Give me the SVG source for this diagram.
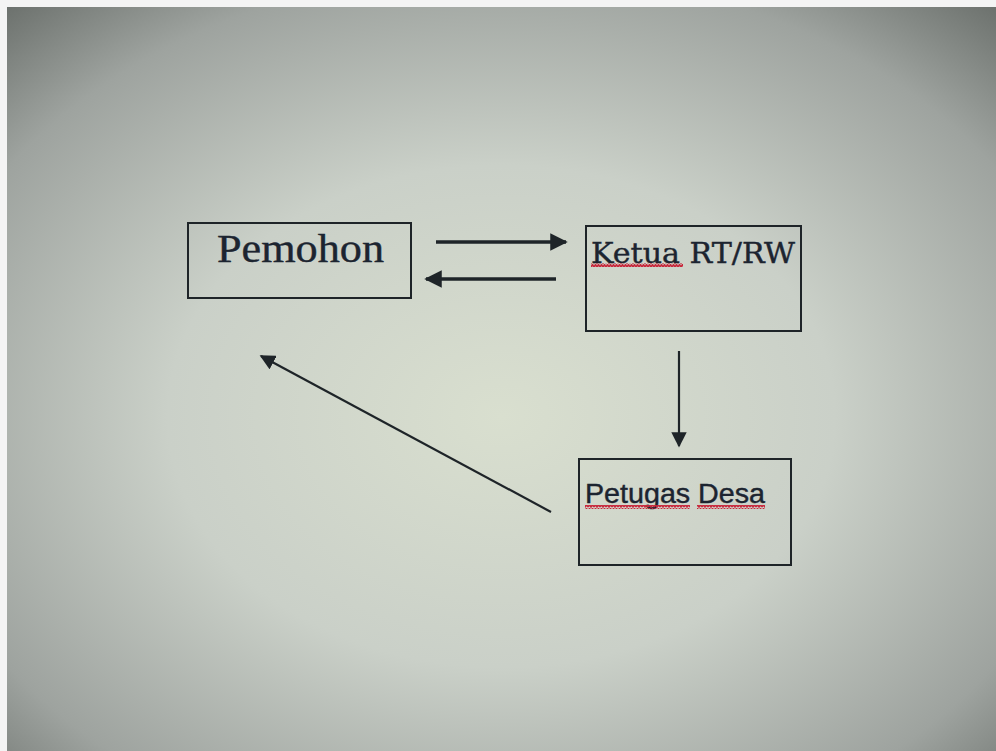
<svg xmlns="http://www.w3.org/2000/svg" width="996" height="751" viewBox="0 0 996 751">
<style>
.box{fill:none;stroke:#1e2428;stroke-width:2}
.con{stroke:#1e2428;fill:none}
.wave{fill:none;stroke:#c8283c;stroke-width:1.5}
.t{fill:#1c2430;stroke:#1c2430;stroke-width:0.4}
</style>
<defs>
<radialGradient id="bg" cx="0.5" cy="0.55" r="0.75">
<stop offset="0" stop-color="#d9dfcf"/>
<stop offset="0.45" stop-color="#cad0c8"/>
<stop offset="0.8" stop-color="#9ea39f"/>
<stop offset="1" stop-color="#6a6f6b"/>
</radialGradient>
<marker id="ah" viewBox="0 0 10 10" refX="9" refY="5" markerWidth="5" markerHeight="5" orient="auto" markerUnits="strokeWidth">
<path d="M0,0 L10,5 L0,10 z" fill="#1e2428"/>
</marker>
<marker id="ah2" viewBox="0 0 10 10" refX="9" refY="5" markerWidth="7" markerHeight="7" orient="auto" markerUnits="strokeWidth">
<path d="M0,0 L10,5 L0,10 z" fill="#1e2428"/>
</marker>
<pattern id="wv" width="6" height="4" patternUnits="userSpaceOnUse">
<path d="M0,3 L1.5,0.5 L3,3 L4.5,0.5 L6,3" class="wave"/>
</pattern>
</defs>
<rect x="0" y="0" width="996" height="751" fill="#f4f4f4"/>
<rect x="7" y="7" width="989" height="744" fill="url(#bg)"/>
<g id="connectors">
<line class="con" x1="436" y1="242" x2="566" y2="242" stroke-width="3.5" marker-end="url(#ah)"/>
<line class="con" x1="556" y1="279" x2="426" y2="279" stroke-width="3.5" marker-end="url(#ah)"/>
<line class="con" x1="679" y1="351" x2="679" y2="446" stroke-width="2.2" marker-end="url(#ah2)"/>
<line class="con" x1="551" y1="512" x2="261" y2="356" stroke-width="2.2" marker-end="url(#ah2)"/>
</g>
<g id="pemohon">
<rect class="box" x="188" y="223" width="223" height="75"/>
<text class="t" x="217" y="262" font-family="Liberation Serif, serif" font-size="39" textLength="167" lengthAdjust="spacingAndGlyphs">Pemohon</text>
</g>
<g id="ketua">
<rect class="box" x="586" y="226" width="215" height="105"/>
<text class="t" x="591" y="263" font-family="DejaVu Serif, serif" font-size="28" textLength="204" lengthAdjust="spacingAndGlyphs">Ketua RT/RW</text>
<rect x="591" y="263" width="92" height="4" fill="url(#wv)"/>
</g>
<g id="petugas">
<rect class="box" x="579" y="459" width="212" height="106"/>
<text class="t" x="585" y="503" font-family="Liberation Sans, sans-serif" font-size="27" textLength="180" lengthAdjust="spacingAndGlyphs">Petugas Desa</text>
<rect x="585" y="505" width="105" height="4" fill="url(#wv)"/>
<rect x="697" y="505" width="68" height="4" fill="url(#wv)"/>
</g>
</svg>
